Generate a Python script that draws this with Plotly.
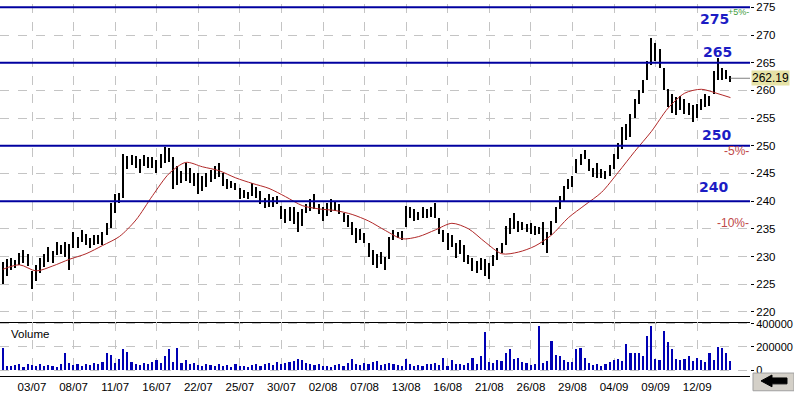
import plotly.graph_objects as go

# ---------------- data ----------------
bar_index = list(range(-7, 169))

high = [
    229.0, 229.5, 229.8, 229.4, 230.6, 231.2, 230.5,
    227.3, 228.5, 229.8, 230.4, 231.7, 231.0, 232.6, 232.0, 232.6, 232.2,
    234.4, 233.5, 234.75, 234.0, 233.3, 233.8, 233.9, 234.4, 236.0, 239.7,
    241.3, 241.5, 248.6, 248.2, 248.4, 248.1, 247.6, 248.4, 247.9, 248.0,
    247.4, 248.5, 249.85, 249.6, 248.0, 246.3, 245.5, 246.8, 246.0, 245.0,
    245.0, 244.5, 245.0, 245.6, 246.3, 246.8, 245.0, 244.0, 243.6, 243.2,
    242.4, 242.0, 241.6, 243.3, 242.5, 241.9, 240.6, 241.3, 240.8, 240.9,
    239.2, 238.5, 239.0, 238.9, 238.0, 238.5, 239.5, 240.3, 241.3, 239.5,
    239.0, 239.6, 240.4, 239.8, 239.4, 237.8, 237.5, 236.2, 235.1, 235.0,
    234.2, 232.5, 231.2, 230.4, 230.8, 230.0, 233.5, 234.75, 234.4, 234.6,
    239.2, 239.0, 238.5, 238.0, 238.9, 238.6, 239.0, 239.7, 237.0, 234.75,
    234.2, 233.9, 232.4, 233.0, 232.0, 230.3, 229.8, 229.2, 229.8, 229.5,
    228.8, 230.3, 231.5, 232.4, 235.5, 237.0, 237.8, 236.5, 236.2, 235.9,
    236.0, 235.5, 235.4, 236.2, 234.5, 236.5, 238.9, 241.0, 242.7, 244.0,
    244.5, 247.6, 248.5, 249.3, 247.6, 246.0, 246.8, 245.8, 245.5, 246.5,
    248.6, 250.5, 253.4, 254.0, 255.7, 258.5, 260.0, 261.9, 265.3, 269.4,
    268.5, 267.5, 264.1, 260.2, 259.3, 258.8, 259.0, 258.4, 257.8, 257.3,
    257.5, 258.5, 259.3, 259.0, 263.5, 265.9, 264.1, 263.6, 262.6,
]

low = [
    225.0, 226.5, 227.5, 227.9, 228.5, 228.8, 228.2,
    224.1, 225.6, 227.0, 228.1, 229.0, 228.9, 230.3, 230.5, 230.0, 227.6,
    231.5, 231.6, 232.6, 232.1, 231.5, 232.0, 232.2, 232.1, 233.8, 235.1,
    237.8, 239.7, 240.5, 245.8, 246.5, 246.0, 245.0, 246.3, 246.0, 245.9,
    245.1, 246.0, 246.8, 247.0, 242.2, 243.0, 243.3, 243.6, 243.3, 242.7,
    241.3, 241.8, 242.5, 243.5, 244.0, 244.4, 242.8, 242.2, 242.4, 242.0,
    240.4, 240.6, 240.4, 241.0, 240.6, 239.5, 238.7, 239.0, 238.9, 239.5,
    236.8, 236.0, 236.4, 235.8, 234.4, 235.5, 237.8, 238.2, 238.6, 237.6,
    236.5, 237.4, 238.0, 238.3, 237.6, 236.2, 235.3, 233.8, 232.4, 233.0,
    232.4, 230.0, 228.5, 228.0, 228.6, 227.6, 229.5, 233.0, 233.3, 233.0,
    235.3, 237.0, 236.5, 236.6, 237.0, 236.9, 237.2, 237.0, 234.0, 232.6,
    231.2, 231.8, 229.8, 230.5, 229.0, 228.6, 227.4, 227.0, 227.6, 226.5,
    225.9, 228.2, 229.3, 230.7, 232.0, 234.0, 235.0, 234.4, 234.8, 234.5,
    234.0, 233.9, 234.0, 232.0, 230.7, 233.9, 236.0, 238.5, 240.0, 242.2,
    242.5, 245.1, 246.5, 247.6, 245.5, 244.4, 244.2, 244.2, 244.0, 244.5,
    245.8, 247.7, 249.5, 251.0, 251.6, 255.0, 257.5, 259.6, 261.9, 264.6,
    265.3, 264.0, 260.0, 257.0, 256.0, 255.5, 256.5, 255.8, 255.5, 254.3,
    255.0, 256.4, 257.0, 257.2, 259.3, 261.8, 261.8, 262.0, 261.5,
]

volume = [
    195000, 40000, 35000, 45000, 50000, 30000, 55000, 45000, 40000, 50000,
    35000, 45000, 40000, 30000, 50000, 145000, 60000, 45000, 55000, 40000,
    50000, 45000, 60000, 50000, 75000, 150000, 130000, 60000, 100000, 180000,
    160000, 70000, 50000, 45000, 60000, 55000, 75000, 90000, 65000, 120000,
    180000, 70000, 190000, 60000, 90000, 55000, 65000, 45000, 40000, 55000,
    45000, 35000, 50000, 40000, 45000, 30000, 55000, 35000, 40000, 30000,
    45000, 50000, 35000, 55000, 60000, 45000, 70000, 55000, 65000, 75000,
    80000, 95000, 85000, 60000, 50000, 45000, 55000, 40000, 35000, 30000,
    45000, 50000, 40000, 60000, 100000, 55000, 45000, 65000, 50000, 70000,
    80000, 45000, 55000, 60000, 50000, 45000, 40000, 95000, 50000, 40000,
    45000, 40000, 55000, 50000, 60000, 45000, 110000, 40000, 85000, 50000,
    55000, 45000, 60000, 110000, 55000, 125000, 330000, 70000, 60000, 90000,
    80000, 150000, 180000, 95000, 110000, 70000, 60000, 45000, 50000, 380000,
    60000, 80000, 255000, 135000, 120000, 90000, 70000, 75000, 180000, 195000,
    110000, 60000, 45000, 55000, 40000, 50000, 70000, 90000, 100000, 80000,
    230000, 150000, 150000, 150000, 120000, 300000, 380000, 100000, 90000, 340000,
    240000, 180000, 100000, 90000, 100000, 120000, 80000, 110000, 90000, 75000,
    150000, 90000, 200000, 190000, 150000, 80000,
]

ma_index = [-7, -3, 1, 5, 9, 13, 17, 21, 25, 29, 33, 37, 41, 45, 49, 53, 57, 61,
            65, 69, 73, 77, 81, 85, 89, 93, 97, 101, 105, 109, 113, 117, 121,
            125, 129, 133, 137, 141, 145, 149, 153, 157, 161, 165, 168]
ma_value = [227.7, 228.5, 227.4, 228.3, 229.5, 230.5, 232.0, 233.6, 236.6, 241.0,
            245.0, 247.0, 246.2, 245.5, 244.2, 243.2, 242.3, 240.8, 239.2, 238.6,
            238.3, 237.6, 236.4, 234.7, 233.2, 233.6, 234.8, 236.0, 235.0, 232.6,
            230.5, 230.8, 231.9, 233.9, 237.0, 239.3, 241.6, 245.2, 249.0, 252.6,
            256.8, 259.5, 260.2, 259.4, 258.7]

date_ticks = [0, 10, 20, 30, 40, 50, 60, 70, 80, 90, 100, 110, 120, 130, 140, 150, 160]
date_labels = ["03/07", "08/07", "11/07", "16/07", "22/07", "25/07", "30/07", "02/08",
               "07/08", "13/08", "16/08", "21/08", "26/08", "29/08", "04/09", "09/09", "12/09"]

price_ticks = [220, 225, 230, 235, 240, 245, 250, 255, 260, 265, 270, 275]
volume_ticks = [0, 200000, 400000]
volume_labels = ["0", "200000", "400000"]

levels = [275, 265, 250, 240]
last_close = 262.19
pct_marks = [5, -5, -10]

# ---------------- layout geometry ----------------
W, H = 794, 393
ML, MR, MT, MB = 0, 44, 0, 15
PW, PH = W - ML - MR, H - MT - MB      # 750 x 378
X_RANGE = [-7.7, 172.7]
Y_RANGE = [218.2, 275.6]
V_RANGE = [-51000, 417000]
split = (PH - 323) / PH


def px(x):
    return x / PW


def py(y):
    return (PH - y) / PH


FONT = "Liberation Sans, Arial, sans-serif"
GRID = "#C4C4C4"

fig = go.Figure()

# price bars (high-low)
fig.add_trace(go.Bar(
    x=bar_index, y=[h - l for h, l in zip(high, low)], base=low,
    width=0.36, marker=dict(color="#000000", line=dict(width=0)),
    xaxis="x", yaxis="y", hoverinfo="skip", showlegend=False))

# moving average
fig.add_trace(go.Scatter(
    x=ma_index, y=ma_value, mode="lines",
    line=dict(color="#B02828", width=1, shape="spline", smoothing=0.8),
    xaxis="x", yaxis="y", hoverinfo="skip", showlegend=False))

# volume
fig.add_trace(go.Bar(
    x=bar_index, y=volume, width=0.4,
    marker=dict(color="#0000B4", line=dict(width=0)),
    xaxis="x2", yaxis="y2", hoverinfo="skip", showlegend=False))

shapes = []
for lv in levels:
    shapes.append(dict(type="line", xref="x domain", x0=0, x1=1, yref="y", y0=lv, y1=lv,
                       line=dict(color="#0000A0", width=2), layer="above"))
# last price pointer line
shapes.append(dict(type="line", xref="x", x0=bar_index[-1], x1=X_RANGE[1], yref="y",
                   y0=last_close, y1=last_close, line=dict(color="#808080", width=1)))
# scroll button (bottom right)
shapes.append(dict(type="rect", xref="paper", yref="paper",
                   x0=px(753), x1=px(794), y0=py(375), y1=py(393),
                   fillcolor="#D4D0C8", line=dict(color="#A0A0A0", width=1), layer="above"))
arrow = [(761, 383), (772, 377), (772, 380), (787, 380), (787, 386), (772, 386), (772, 389)]
path = "M " + " L ".join(f"{px(a):.5f},{py(b):.5f}" for a, b in arrow) + " Z"
shapes.append(dict(type="path", xref="paper", yref="paper", path=path,
                   fillcolor="#000000", line=dict(color="#000000", width=1), layer="above"))

annotations = []
level_shift = {275: -12, 265: 11, 250: 11, 240: 14}
level_x = {275: 714, 265: 717, 250: 716, 240: 713}
for lv in levels:
    annotations.append(dict(xref="paper", x=px(level_x[lv]), yref="y", y=lv,
                            yshift=level_shift[lv], text=f"<b>{lv}</b>", showarrow=False,
                            font=dict(family="DejaVu Sans", size=14, color="#1C1CC4"),
                            xanchor="center", yanchor="middle"))
for p in pct_marks:
    annotations.append(dict(xref="paper", x=1, yref="y", y=last_close * (1 + p / 100),
                            text=f"{p:+d}%-" if p > 0 else f"{p:d}%-", showarrow=False,
                            font=dict(family=FONT, size=9 if p > 0 else 12,
                                      color="#3C9C3C" if p > 0 else "#C04848"),
                            xanchor="right", yanchor="top" if p > 0 else "middle", xshift=1,
                            yshift=1 if p > 0 else 0))
annotations.append(dict(xref="paper", x=1, yref="y", y=last_close, text=f"{last_close:.2f}",
                        showarrow=False, bgcolor="#E6E2A6", borderpad=0,
                        font=dict(family=FONT, size=12, color="#000000"),
                        xanchor="left", yanchor="middle", xshift=1))
annotations.append(dict(xref="paper", x=px(9), yref="paper", y=py(327), text="Volume",
                        showarrow=False, font=dict(family=FONT, size=11.5, color="#000000"),
                        xanchor="left", yanchor="top"))

axis_common = dict(showgrid=True, gridcolor=GRID, griddash="dash", gridwidth=1, zeroline=False)

fig.update_layout(
    width=W, height=H,
    margin=dict(l=ML, r=MR, t=MT, b=MB, pad=0),
    paper_bgcolor="#FFFFFF", plot_bgcolor="#FFFFFF",
    showlegend=False, bargap=0,
    font=dict(family=FONT, size=12, color="#000000"),
    xaxis=dict(domain=[0, 1], anchor="y", range=X_RANGE, tickvals=date_ticks,
               showticklabels=False, ticks="", showline=True, linecolor="#000000",
               linewidth=1, **axis_common),
    yaxis=dict(domain=[split, 1], anchor="x", range=Y_RANGE, side="right",
               tickvals=price_ticks, ticks="outside", ticklen=3, tickcolor="#000000",
               tickfont=dict(family=FONT, size=11.5, color="#000000"), showline=False,
               **axis_common),
    xaxis2=dict(domain=[0, 1], anchor="y2", range=X_RANGE, matches="x",
                tickvals=date_ticks, ticktext=date_labels, ticks="", showline=True,
                linecolor="#000000", linewidth=1,
                tickfont=dict(family=FONT, size=11.5, color="#000000"), **axis_common),
    yaxis2=dict(domain=[0, split], anchor="x2", range=V_RANGE, side="right",
                tickvals=volume_ticks, ticktext=volume_labels, ticks="outside", ticklen=3,
                tickcolor="#000000", tickfont=dict(family=FONT, size=11, color="#000000"),
                showline=False, **axis_common),
    shapes=shapes, annotations=annotations,
)

fig.write_html("out.html")
